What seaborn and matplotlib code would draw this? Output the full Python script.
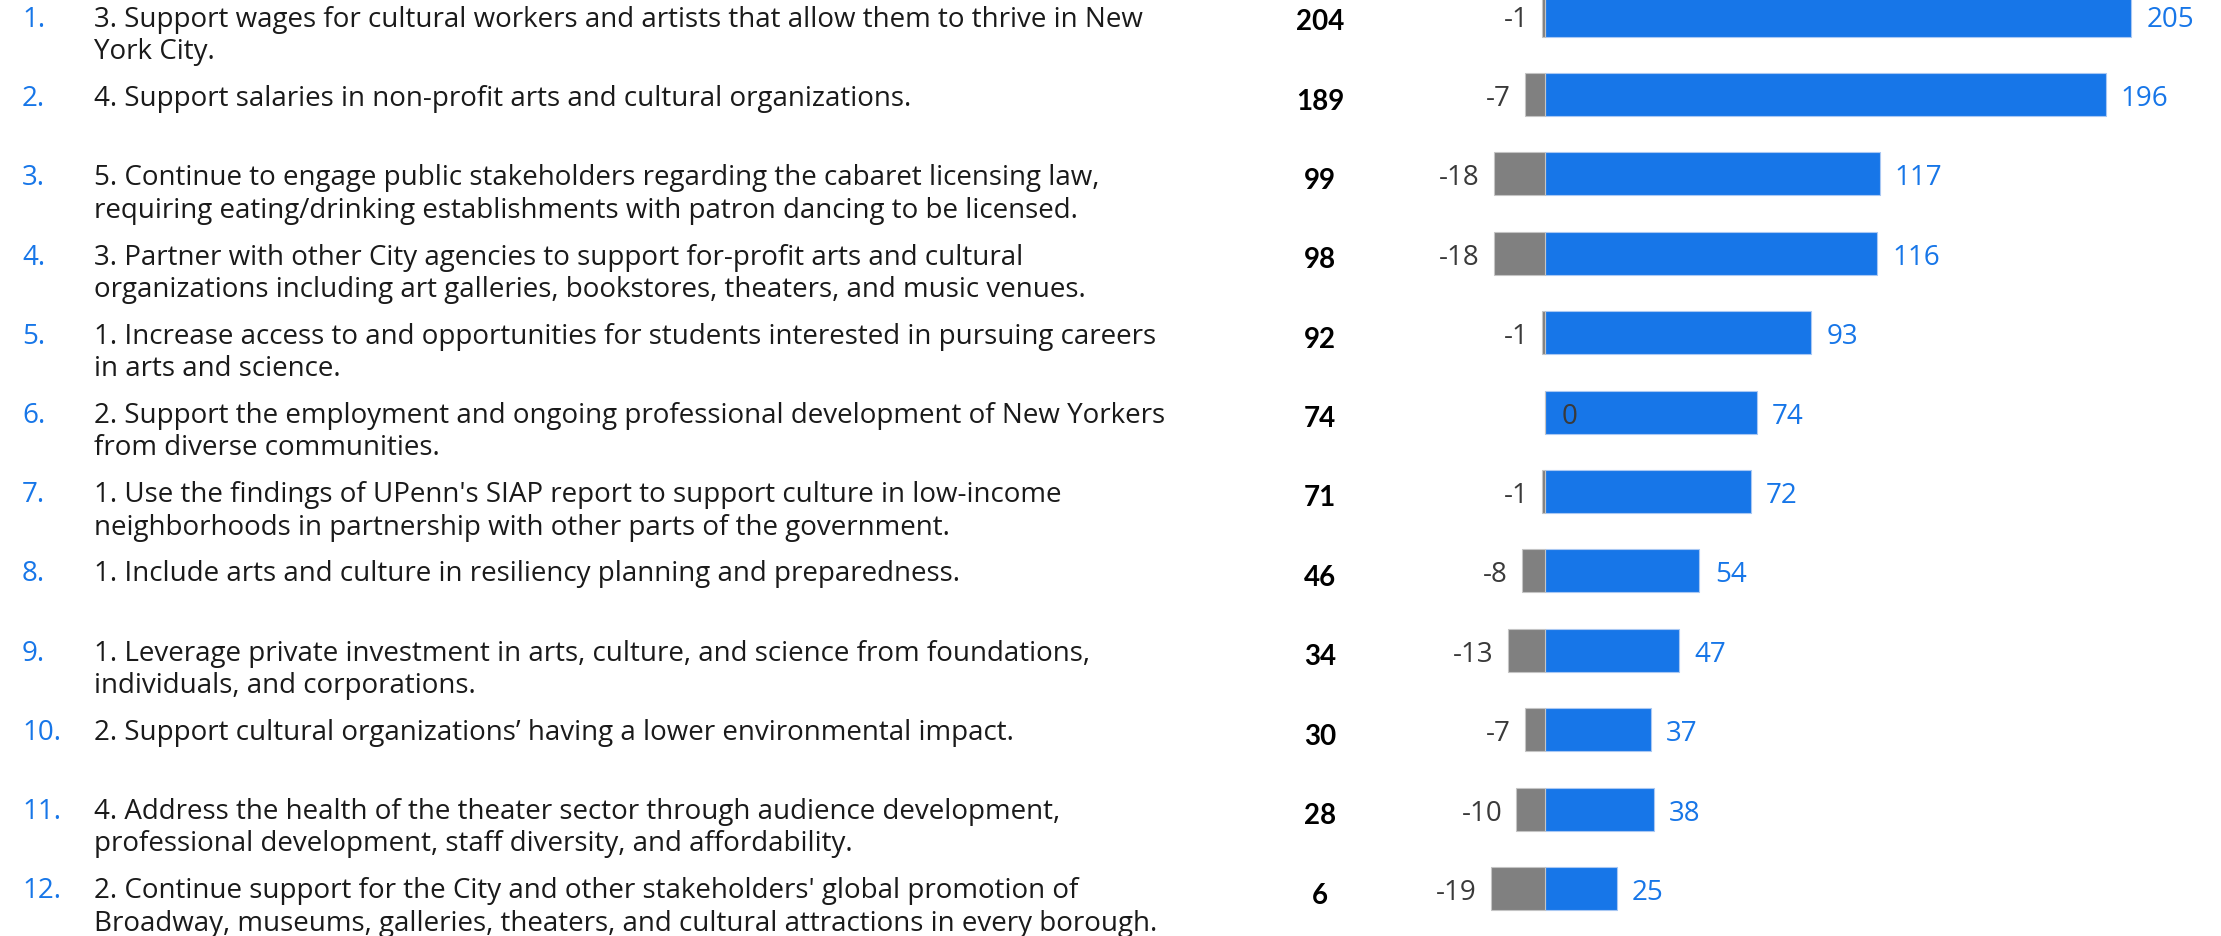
import matplotlib
matplotlib.use("Agg")
import matplotlib.pyplot as plt
import seaborn as sns
import pandas as pd

# Strategies, ranked by net score
ranks = ["1.", "2.", "3.", "4.", "5.", "6.", "7.", "8.", "9.", "10.", "11.", "12."]
strategies = [
    ["3. Support wages for cultural workers and artists that allow them to thrive in New", "York City."],
    ["4. Support salaries in non-profit arts and cultural organizations."],
    ["5. Continue to engage public stakeholders regarding the cabaret licensing law,",
     "requiring eating/drinking establishments with patron dancing to be licensed."],
    ["3. Partner with other City agencies to support for-profit arts and cultural",
     "organizations including art galleries, bookstores, theaters, and music venues."],
    ["1. Increase access to and opportunities for students interested in pursuing careers",
     "in arts and science."],
    ["2. Support the employment and ongoing professional development of New Yorkers",
     "from diverse communities."],
    ["1. Use the findings of UPenn's SIAP report to support culture in low-income",
     "neighborhoods in partnership with other parts of the government."],
    ["1. Include arts and culture in resiliency planning and preparedness."],
    ["1. Leverage private investment in arts, culture, and science from foundations,",
     "individuals, and corporations."],
    ["2. Support cultural organizations\u2019 having a lower environmental impact."],
    ["4. Address the health of the theater sector through audience development,",
     "professional development, staff diversity, and affordability."],
    ["2. Continue support for the City and other stakeholders' global promotion of",
     "Broadway, museums, galleries, theaters, and cultural attractions in every borough."],
]
positive = [205, 196, 117, 116, 93, 74, 72, 54, 47, 37, 38, 25]
negative = [-1, -7, -18, -18, -1, 0, -1, -8, -13, -7, -10, -19]
net = [p + n for p, n in zip(positive, negative)]

BLUE = "#1776E8"
GREY = "#808080"
TEXT = "#1a1a1a"
DARK = "#3a3a3a"

sns.set_theme(style="white")
plt.rcParams["font.family"] = ["Lato", "DejaVu Sans"]

df = pd.DataFrame({"rank": ranks, "pos": positive, "neg": negative})

W, H, DPI = 2221, 937, 100
fig = plt.figure(figsize=(W / DPI, H / DPI), dpi=DPI)
ax = fig.add_axes([0, 0, 1, 1])

sns.barplot(data=df, x="pos", y="rank", orient="h", color=BLUE, width=0.54,
            saturation=1, edgecolor="#a9c8f3", linewidth=0.8, ax=ax)
sns.barplot(data=df, x="neg", y="rank", orient="h", color=GREY, width=0.54,
            saturation=1, edgecolor="#c4c4c4", linewidth=0.8, ax=ax)

zero_px = 1545
px_per_unit = 2.86
ax.set_xlim(-zero_px / px_per_unit, (W - zero_px) / px_per_unit)
row_px = 79.4
first_px = 16.1
ax.set_ylim((H - first_px) / row_px, -first_px / row_px)
ax.axis("off")

tr = ax.get_yaxis_transform()  # x in axes fraction, y in data


def px_to_row(px):
    return (px - first_px) / row_px


text_font = ["Open Sans", "DejaVu Sans"]
LABEL_SIZE = 20.0
text_row_px = 79.2
line_gap_px = 32.5

for i, (rk, lines) in enumerate(zip(ranks, strategies)):
    baseline_px = 27.0 + text_row_px * i
    ax.text(22 / W, px_to_row(baseline_px), rk, transform=tr, ha="left",
            va="baseline", fontsize=LABEL_SIZE, color=BLUE, family=text_font)
    for k, line in enumerate(lines):
        ax.text(94 / W, px_to_row(baseline_px + k * line_gap_px), line,
                transform=tr, ha="left", va="baseline", fontsize=LABEL_SIZE,
                color=TEXT, family=text_font)
    ax.text(1320 / W, i + 14 / row_px, f"{net[i]}", transform=tr, ha="center",
            va="baseline", fontsize=20, fontweight="bold", color="#000000")

    # value labels beside the bars
    vfont = ["Open Sans", "DejaVu Sans"]
    ax.annotate(f"{positive[i]}", xy=(positive[i], i + 10.5 / row_px),
                xytext=(11, 0), textcoords="offset points", ha="left",
                va="baseline", fontsize=20, color=BLUE, family=vfont)
    if negative[i] < 0:
        ax.annotate(f"{negative[i]}", xy=(negative[i], i + 10.5 / row_px),
                    xytext=(-10, 0), textcoords="offset points", ha="right",
                    va="baseline", fontsize=20, color=DARK, family=vfont)
    else:
        ax.annotate(f"{negative[i]}", xy=(0, i + 10.5 / row_px),
                    xytext=(12, 0), textcoords="offset points", ha="left",
                    va="baseline", fontsize=20, color=DARK, family=vfont)

fig.savefig("out.png", dpi=DPI)
